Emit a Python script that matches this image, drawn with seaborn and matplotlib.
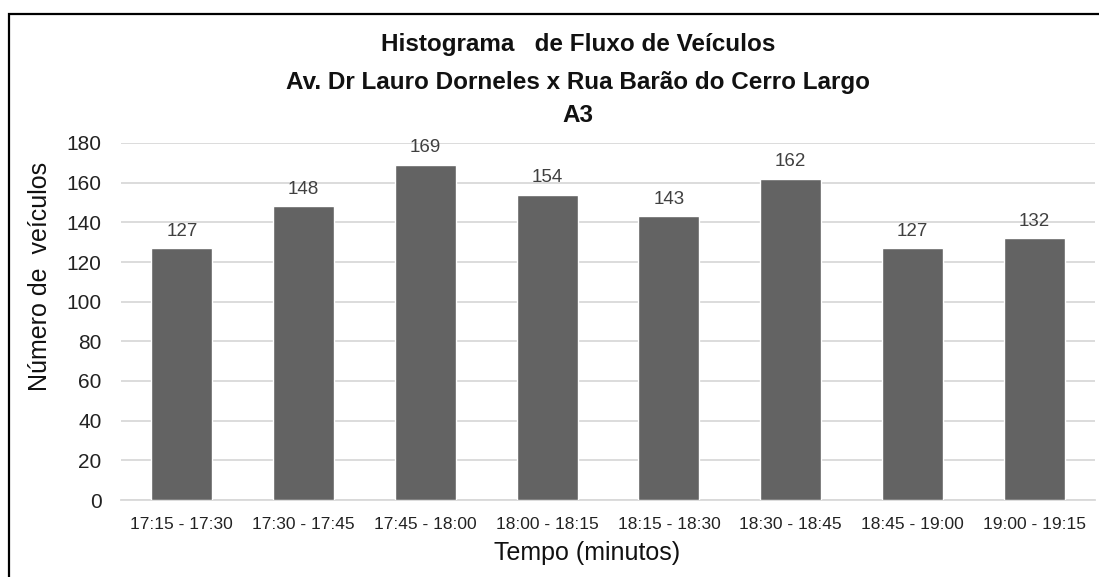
import matplotlib
matplotlib.use("Agg")
import matplotlib.pyplot as plt
import seaborn as sns
import pandas as pd
from matplotlib.patches import Rectangle

# Vehicle counts per 15-minute interval
intervalos = ["17:15 - 17:30", "17:30 - 17:45", "17:45 - 18:00", "18:00 - 18:15",
              "18:15 - 18:30", "18:30 - 18:45", "18:45 - 19:00", "19:00 - 19:15"]
veiculos = [127, 148, 169, 154, 143, 162, 127, 132]
yticks = [0, 20, 40, 60, 80, 100, 120, 140, 160, 180]

titulo = ["Histograma   de Fluxo de Veículos",
          "Av. Dr Lauro Dorneles x Rua Barão do Cerro Largo",
          "A3"]

sns.set_theme(style="white")
plt.rcParams["font.family"] = ["Liberation Sans", "DejaVu Sans"]

df = pd.DataFrame({"intervalo": intervalos, "veiculos": veiculos})

fig = plt.figure(figsize=(10.99, 5.77), dpi=100)
ax = fig.add_axes([121 / 1099, 77 / 577, 974 / 1099, 357 / 577])

sns.barplot(data=df, x="intervalo", y="veiculos", color="#636363",
            saturation=1, width=0.5, ax=ax, zorder=3)

ax.set_ylim(0, 180)
ax.set_yticks(yticks)
ax.yaxis.grid(True, color="#d9d9d9", linewidth=1.3, zorder=0)
ax.set_axisbelow(True)
for s in ["top", "right", "left"]:
    ax.spines[s].set_visible(False)
ax.spines["bottom"].set_color("#d9d9d9")
ax.spines["bottom"].set_linewidth(1.3)
ax.tick_params(axis="y", length=0, pad=14, labelsize=15, labelcolor="#222222")
ax.tick_params(axis="x", length=0, pad=12, labelsize=12.5, labelcolor="#222222")

for c in ax.containers:
    ax.bar_label(c, labels=[str(v) for v in veiculos], padding=6,
                 fontsize=13.5, color="#404040")

ax.set_xlabel("Tempo (minutos)", fontsize=18, color="#111111")
ax.xaxis.set_label_coords(0.478, -0.114)
ax.set_ylabel("Número de  veículos", fontsize=18, color="#111111")
ax.yaxis.set_label_coords(-0.071, 0.625)

for txt, yp in zip(titulo, [45, 83, 116]):
    fig.text(578 / 1099, 1 - yp / 577, txt, ha="center", va="center",
             fontsize=17.5, fontweight="bold", color="#111111")

# Frame around the chart area
fig.patches.append(Rectangle((9 / 1099, -0.2), 1.2, 0.2 + (577 - 14) / 577,
                             transform=fig.transFigure, fill=False,
                             edgecolor="black", linewidth=1.6))

fig.savefig("out.png", dpi=100)
